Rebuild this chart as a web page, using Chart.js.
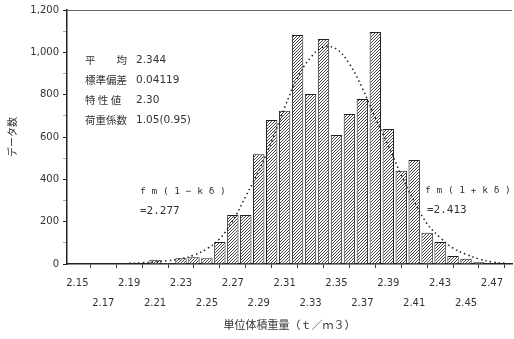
<!DOCTYPE html>
<html>
<head>
<meta charset="utf-8">
<script src="https://cdn.jsdelivr.net/npm/chart.js@4"></script>
<style>
  html, body { margin: 0; padding: 0; background: #fff; }
</style>
</head>
<body>
<canvas id="histChart" width="514" height="339"></canvas>
<script>
// 度数分布（階級中央値と度数）
const binCenters = [2.21, 2.22, 2.23, 2.24, 2.25, 2.26, 2.27, 2.28, 2.29, 2.30, 2.31, 2.32, 2.33,
  2.34, 2.35, 2.36, 2.37, 2.38, 2.39, 2.40, 2.41, 2.42, 2.43, 2.44, 2.45, 2.46];
const binCounts = [20, 5, 27, 32, 27, 104, 231, 231, 518, 680, 724, 1082, 803,
  1063, 609, 709, 780, 1096, 638, 441, 491, 148, 104, 38, 25, 8];

// 点線の曲線（図から読んだ値）
const curveX = [2.19, 2.20, 2.21, 2.22, 2.23, 2.24, 2.25, 2.26, 2.27, 2.28, 2.29, 2.30, 2.31, 2.32, 2.33,
  2.34, 2.35, 2.36, 2.37, 2.38, 2.39, 2.40, 2.41, 2.42, 2.43, 2.44, 2.45, 2.46, 2.47, 2.48];
const curveY = [3, 6, 10, 16, 25, 42, 72, 120, 205, 320, 440, 580, 740, 880, 975,
  1025, 1015, 945, 830, 690, 560, 420, 295, 190, 125, 75, 46, 24, 10, 4];

const xTickLabels = ["2.15", "2.17", "2.19", "2.21", "2.23", "2.25", "2.27", "2.29", "2.31",
  "2.33", "2.35", "2.37", "2.39", "2.41", "2.43", "2.45", "2.47"];
const yTickLabels = ["0", "200", "400", "600", "800", "1,000", "1,200"];

const statLabels = ["平　　均", "標準偏差", "特 性 値", "荷重係数"];
const statValues = ["2.344", "0.04119", "2.30", "1.05(0.95)"];
const lowerNote = ["f m ( 1 − k δ )", "=2.277"];
const upperNote = ["f m ( 1 + k δ )", "=2.413"];

const INK = "#333";
const CJK = "'Noto Sans CJK JP', 'DejaVu Sans', sans-serif";

function makeHatch() {
  const c = document.createElement("canvas");
  c.width = 3;
  c.height = 3;
  const g = c.getContext("2d");
  g.fillStyle = "#fff";
  g.fillRect(0, 0, 3, 3);
  g.fillStyle = "#444";
  for (let i = 0; i < 3; i++) g.fillRect(i, 2 - i, 1, 1);
  return g.createPattern(c, "repeat");
}

// 文字注記と上枠
const notes = {
  id: "notes",
  afterDatasetsDraw(chart) {
    const { ctx, chartArea } = chart;
    const L = chartArea.left;
    ctx.save();
    ctx.strokeStyle = "#666";
    ctx.lineWidth = 1;
    ctx.beginPath();
    ctx.moveTo(L, chartArea.top + 0.5);
    ctx.lineTo(chartArea.right, chartArea.top + 0.5);
    ctx.stroke();

    ctx.fillStyle = INK;
    ctx.textBaseline = "middle";
    statLabels.forEach((s, i) => {
      const y = 60 + i * 20;
      ctx.font = "10.5px " + CJK;
      ctx.fillText(s, L + 18, y);
      ctx.font = "10.5px 'DejaVu Sans'";
      ctx.fillText(statValues[i], L + 69, y);
    });

    ctx.font = "9.5px 'DejaVu Sans Mono'";
    ctx.fillText(lowerNote[0], L + 73, 192);
    ctx.fillText(upperNote[0], L + 358, 191);
    ctx.font = "11px 'DejaVu Sans Mono'";
    ctx.fillText(lowerNote[1], L + 73, 211);
    ctx.fillText(upperNote[1], L + 360, 210);
    ctx.restore();
  },
};

const ctx = document.getElementById("histChart").getContext("2d");
new Chart(ctx, {
  type: "bar",
  data: {
    datasets: [
      {
        type: "line",
        data: curveX.map((x, i) => ({ x: x, y: curveY[i] })),
        borderColor: "#222",
        borderWidth: 1.5,
        borderDash: [1.5, 3],
        pointRadius: 0,
        tension: 0.4,
        fill: false,
        order: 0,
      },
      {
        type: "bar",
        data: binCenters.map((x, i) => ({ x: x, y: binCounts[i] })),
        backgroundColor: makeHatch(),
        borderColor: "#222",
        borderWidth: 1,
        categoryPercentage: 1,
        barPercentage: 0.88,
        order: 1,
      },
    ],
  },
  options: {
    responsive: false,
    animation: false,
    layout: { padding: { top: 10, right: 2, bottom: 0, left: 0 } },
    plugins: { legend: { display: false }, tooltip: { enabled: false } },
    scales: {
      x: {
        type: "linear",
        min: 2.142,
        max: 2.4855,
        offset: false,
        afterBuildTicks: (s) => {
          s.ticks = xTickLabels.map((t) => ({ value: parseFloat(t) }));
        },
        afterFit: (s) => {
          s.height = 75;
        },
        grid: { drawOnChartArea: false, tickLength: 4, tickColor: "#333" },
        border: { color: "#222", width: 1.5 },
        ticks: {
          autoSkip: false,
          maxRotation: 0,
          padding: 5,
          color: INK,
          font: { family: "DejaVu Sans", size: 10, lineHeight: 2 },
          callback: (v, i) => (i % 2 === 0 ? xTickLabels[i] : ["", xTickLabels[i]]),
        },
        title: {
          display: true,
          text: "単位体積重量（ｔ／ｍ３）",
          color: INK,
          font: { family: CJK, size: 11, lineHeight: 1.2 },
          padding: { top: 0, bottom: 8 },
        },
      },
      y: {
        min: 0,
        max: 1200,
        afterFit: (s) => {
          s.width = 67;
        },
        grid: {
          drawOnChartArea: false,
          tickLength: 4,
          tickColor: (c) => (c.tick && c.tick.value % 200 === 0 ? "#222" : "#aaa"),
        },
        border: { color: "#222", width: 1.5 },
        ticks: {
          stepSize: 100,
          autoSkip: false,
          padding: 4,
          color: INK,
          font: { family: "DejaVu Sans", size: 10 },
          callback: (v) => (v % 200 === 0 ? yTickLabels[v / 200] : ""),
        },
        title: {
          display: true,
          text: "データ数",
          color: INK,
          font: { family: CJK, size: 10, lineHeight: 1.2 },
          padding: { top: 6, bottom: 0 },
        },
      },
    },
  },
  plugins: [notes],
});
</script>
</body>
</html>
